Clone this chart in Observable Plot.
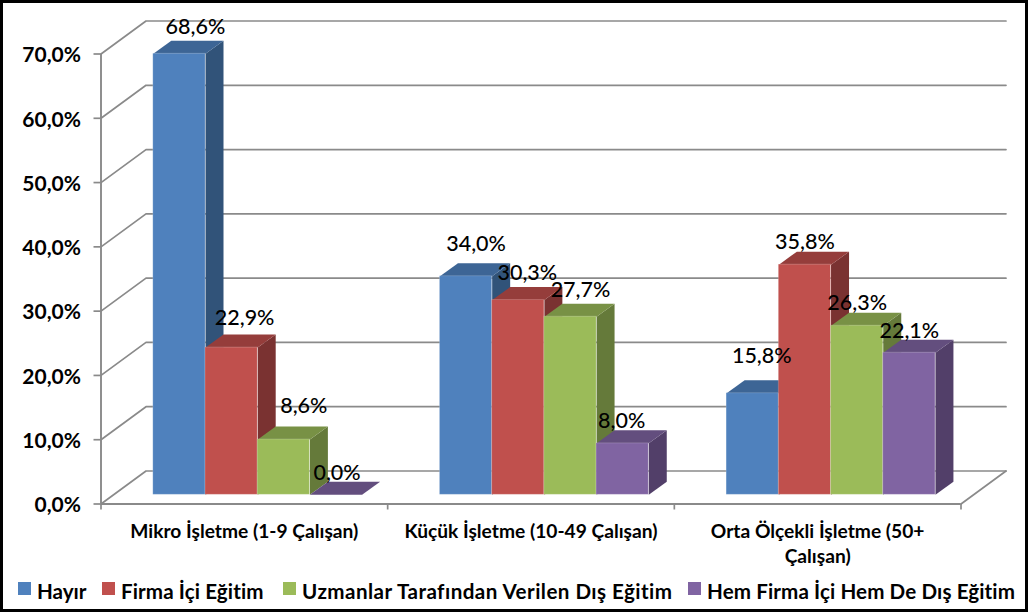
<!DOCTYPE html>
<html lang="tr">
<head>
<meta charset="utf-8">
<script src="https://cdn.jsdelivr.net/npm/d3@7"></script>
<script src="https://cdn.jsdelivr.net/npm/@observablehq/plot@0.6"></script>
<style>
html,body{margin:0;padding:0;background:#fff}
#chart{position:relative;box-sizing:border-box;width:1028px;height:612px;border:3px solid #000;overflow:hidden;font-family:Lato,sans-serif}
#chart svg{display:block}
#legend{position:relative;height:34px;font-weight:700;font-size:20.6px;color:#000}
#legend span.item{position:absolute;top:0;white-space:nowrap;line-height:34px;height:34px}
#legend i{position:absolute;left:0;top:7px;width:13px;height:13px}
#legend b{position:absolute;top:-1px;font-weight:700;white-space:nowrap}
</style>
</head>
<body>
<div id="chart"></div>
<script>
const categories = ["Mikro İşletme (1-9 Çalışan)", "Küçük İşletme (10-49 Çalışan)", "Orta Ölçekli İşletme (50+\nÇalışan)"];
const seriesNames = ["Hayır", "Firma İçi Eğitim", "Uzmanlar Tarafından Verilen Dış Eğitim", "Hem Firma İçi Hem De Dış Eğitim"];
const hayir = [68.6, 34.0, 15.8];
const firmaIci = [22.9, 30.3, 35.8];
const uzmanlar = [8.6, 27.7, 26.3];
const hemFirma = [0.0, 8.0, 22.1];
const yTicks = [0, 10, 20, 30, 40, 50, 60, 70];
const xBoundaries = [0, 1, 2, 3];

const seriesValues = [hayir, firmaIci, uzmanlar, hemFirma];
const frontColors = ["#4F81BD", "#C0504D", "#9BBB59", "#8064A2"];
const topColors = ["#3D6595", "#953D3B", "#789145", "#634E7E"];
const sideColors = ["#315379", "#7A3231", "#657A3A", "#523F69"];
const gridColor = "#8A8A8A";

// layout (not data): pixel placement of the scales and pseudo-3D depth
const W = 1022, H = 572, frame = 3;
const left = 100.5, right = 960.5, top0 = 503.5, top70 = 53.5;
const pxPerCat = (right - left) / 3, pxPerUnit = (top0 - top70) / 70;
const toCat = px => px / pxPerCat, toVal = px => px / pxPerUnit;
const wallDX = toCat(45), wallDY = toVal(33);
const floorDX = toCat(12.3), floorDY = toVal(9.2);
const barDX = toCat(18), barDY = toVal(13);
const barW = toCat(52.2);
const groupPad = toCat(40);

// per-label nudges [dx, dy] in pixels from the top-centre of each front face
const labelNudges = [
  [[16, -27], [10, -32], [9, -37]],
  [[13, -29], [9, -27], [0, -22.5]],
  [[20, -33], [10, -26.5], [0, -22.5]],
  [[1, -22], [-1, -22], [0, -22]]
];

const fmt = v => d3.format(".1f")(v).replace(".", ",") + "%";
const axisFont = {fontFamily: "Lato, sans-serif"};

const marks = [];

// walls: each gridline runs from the front axis to the back wall, then along it
for (const v of yTicks) {
  marks.push(Plot.line(
    [[0, v], [wallDX, v + wallDY], [3 + wallDX, v + wallDY]],
    {x: d => d[0], y: d => d[1], stroke: gridColor, strokeWidth: 1.7}
  ));
}
// floor edges
marks.push(Plot.line([[3, 0], [3 + wallDX, wallDY]], {x: d => d[0], y: d => d[1], stroke: gridColor, strokeWidth: 1.7}));
marks.push(Plot.ruleY([0], {x1: 0, x2: 3, stroke: gridColor, strokeWidth: 1.9}));
marks.push(Plot.ruleX([0], {y1: 0, y2: 70, stroke: gridColor, strokeWidth: 1.9}));

// bars, painted left to right so that each front hides its neighbour's side
categories.forEach((cat, g) => {
  seriesValues.forEach((vals, s) => {
    const v = vals[g];
    const x0 = g + floorDX + groupPad + s * barW;
    const x1 = x0 + barW;
    const y0 = floorDY;
    const y1 = v + floorDY;
    const xy = {x: d => d[0], y: d => d[1], stroke: "none"};
    marks.push(Plot.line(
      [[x1, y0], [x1 + barDX, y0 + barDY], [x1 + barDX, y1 + barDY], [x1, y1], [x1, y0]],
      {...xy, fill: sideColors[s]}
    ));
    marks.push(Plot.line(
      [[x0, y1], [x0 + barDX, y1 + barDY], [x1 + barDX, y1 + barDY], [x1, y1], [x0, y1]],
      {...xy, fill: topColors[s]}
    ));
    marks.push(Plot.rect([0], {
      x1: () => x0, x2: () => x1, y1: () => y0, y2: () => y1,
      fill: frontColors[s], stroke: "#fff", strokeOpacity: 0.18, strokeWidth: 1
    }));
  });
});

// value labels
categories.forEach((cat, g) => {
  seriesValues.forEach((vals, s) => {
    const v = vals[g];
    const [dx, dy] = labelNudges[s][g];
    marks.push(Plot.text([v], {
      x: () => g + floorDX + groupPad + (s + 0.5) * barW,
      y: () => v + floorDY,
      text: d => fmt(d),
      dx, dy,
      fontSize: 21.5,
      fontWeight: 500,
      fontFamily: "Lato, sans-serif",
      fill: "#000"
    }));
  });
});

// axes: ticks and tick labels separately, since the labels sit a little below their ticks
marks.push(Plot.axisY({
  ticks: yTicks, tickFormat: () => "", tickSize: 7, tickPadding: 0,
  label: null, stroke: gridColor, strokeWidth: 1.7
}));
marks.push(Plot.axisY({
  ticks: yTicks, tickFormat: fmt, tickSize: 0, tickPadding: 20, dy: 1.5,
  label: null, color: "#000", fontSize: 21, fontWeight: 700, ...axisFont
}));
marks.push(Plot.axisX({
  ticks: xBoundaries, tickFormat: () => "", tickSize: 6, tickPadding: 0,
  label: null, stroke: gridColor, strokeWidth: 1.7
}));

// category labels
marks.push(Plot.text(categories, {
  x: (d, i) => i + 0.5,
  y: () => 0,
  text: d => d,
  dy: 17,
  lineAnchor: "top",
  lineHeight: 1.27,
  fontSize: 19.2,
  fontWeight: 700,
  fontFamily: "Lato, sans-serif",
  fill: "#000"
}));

const plot = Plot.plot({
  width: W,
  height: H,
  marginLeft: left - frame,
  marginRight: W - (right - frame),
  marginTop: top70 - frame,
  marginBottom: H - (top0 - frame),
  x: {type: "linear", domain: [0, 3], axis: null},
  y: {type: "linear", domain: [0, 70], axis: null},
  style: {fontFamily: "Lato, sans-serif", background: "#fff", overflow: "visible"},
  marks
});

const chart = document.getElementById("chart");
chart.appendChild(plot);

// legend, below the SVG
const legend = document.createElement("div");
legend.id = "legend";
const legendLefts = [15, 99, 280, 685];
const legendSpacing = [0, 0.1, 0.45, 0.1];
seriesNames.forEach((name, i) => {
  const item = document.createElement("span");
  item.className = "item";
  item.style.left = legendLefts[i] + "px";
  const sw = document.createElement("i");
  sw.style.background = frontColors[i];
  const label = document.createElement("b");
  label.style.left = "19px";
  label.style.letterSpacing = legendSpacing[i] + "px";
  label.textContent = name;
  item.append(sw, label);
  legend.appendChild(item);
});
chart.appendChild(legend);
</script>
</body>
</html>
